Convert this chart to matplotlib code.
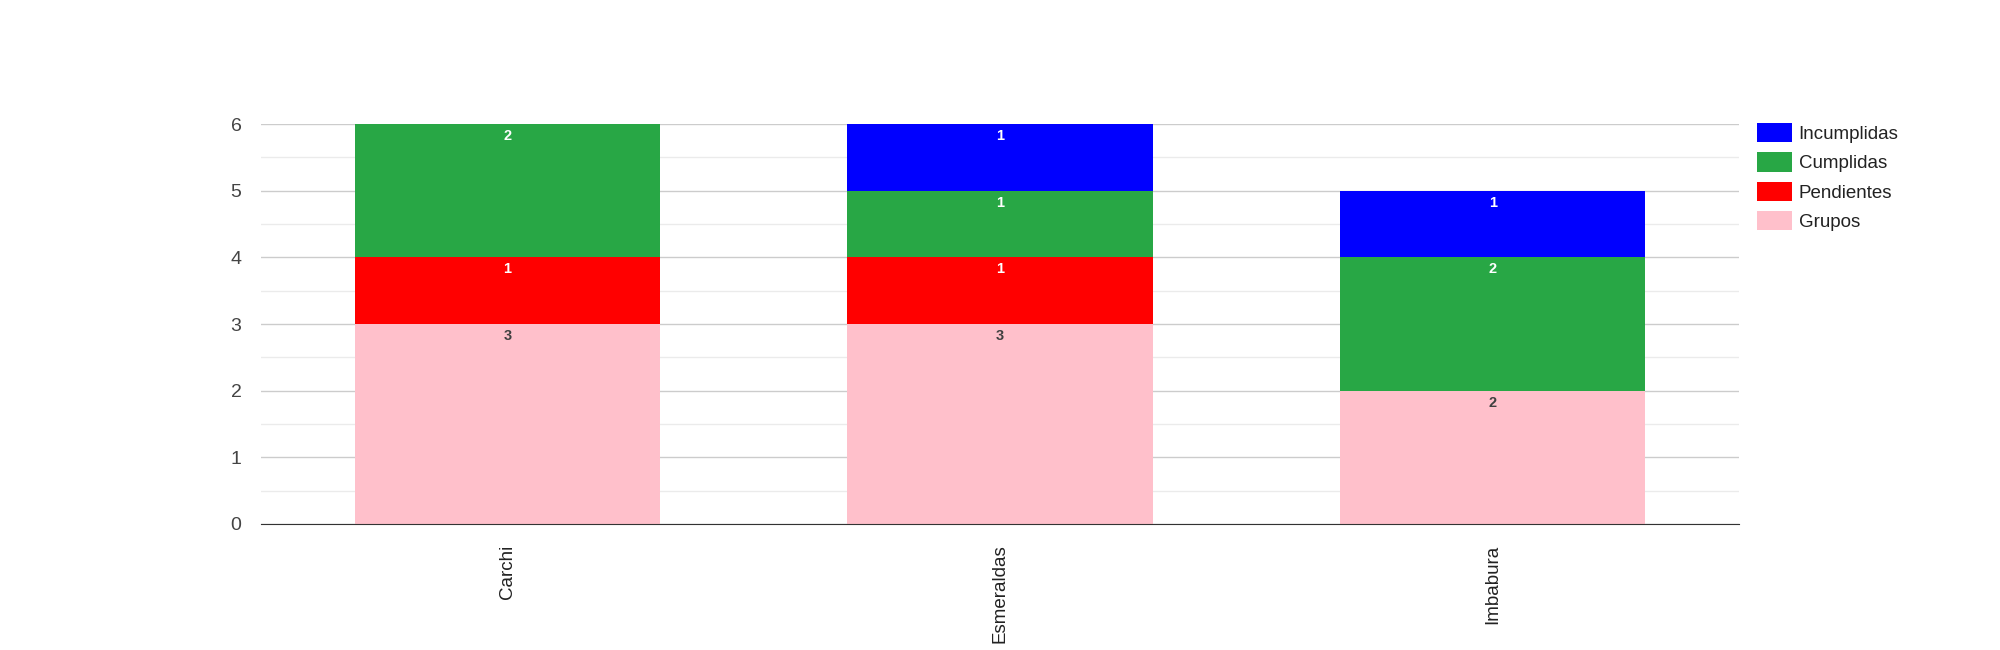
import numpy as np
import matplotlib.pyplot as plt

plt.rcParams['font.family'] = ['Liberation Sans', 'DejaVu Sans']

provincias = ["Carchi", "Esmeraldas", "Imbabura"]
grupos = [3, 3, 2]
pendientes = [1, 1, 0]
cumplidas = [2, 1, 2]
incumplidas = [0, 1, 1]

series = [
    ("Grupos", grupos, "#ffc0cb", "#404040"),
    ("Pendientes", pendientes, "#ff0000", "white"),
    ("Cumplidas", cumplidas, "#28a745", "white"),
    ("Incumplidas", incumplidas, "#0000ff", "white"),
]

fig = plt.figure(figsize=(20, 6.5), dpi=100)
ax = fig.add_axes([0.1305, 0.194, 0.739, 0.615])

x = np.arange(len(provincias))
bottom = np.zeros(len(provincias))
handles = []
for name, vals, color, txtcolor in series:
    vals = np.array(vals, dtype=float)
    bars = ax.bar(x, vals, 0.62, bottom=bottom, color=color, label=name,
                  zorder=3, linewidth=0)
    handles.append(bars)
    for xi, v, b in zip(x, vals, bottom):
        if v > 0:
            ax.annotate(f"{int(v)}", (xi, b + v), xytext=(0, -3.5),
                        textcoords="offset points", ha="center", va="top",
                        fontsize=10.5, fontweight="bold", color=txtcolor,
                        zorder=4)
    bottom += vals

ax.set_xlim(-0.5, 2.5)
ax.set_ylim(0, 6)
ax.set_yticks(range(0, 7))
ax.set_yticks(np.arange(0.5, 6, 1), minor=True)
ax.grid(axis="y", which="major", color="#cccccc", linewidth=1, zorder=0)
ax.grid(axis="y", which="minor", color="#ebebeb", linewidth=1, zorder=0)
ax.tick_params(axis="y", which="both", length=0, pad=14, labelsize=14,
               labelcolor="#444444")
ax.set_xticks(x)
ax.set_xticklabels(provincias, rotation=90, fontsize=13.5, color="#222222")
ax.tick_params(axis="x", length=0, pad=15)
for s in ["top", "right", "left"]:
    ax.spines[s].set_visible(False)
ax.spines["bottom"].set_color("#333333")
ax.spines["bottom"].set_zorder(5)

ax.legend(handles[::-1], [s[0] for s in series][::-1], loc="upper left",
          bbox_to_anchor=(1.001, 1.045), frameon=False, fontsize=13.5,
          handlelength=1.85, handleheight=1.2, labelspacing=0.5,
          handletextpad=0.35, labelcolor="#222222")

fig.savefig("out.png")
